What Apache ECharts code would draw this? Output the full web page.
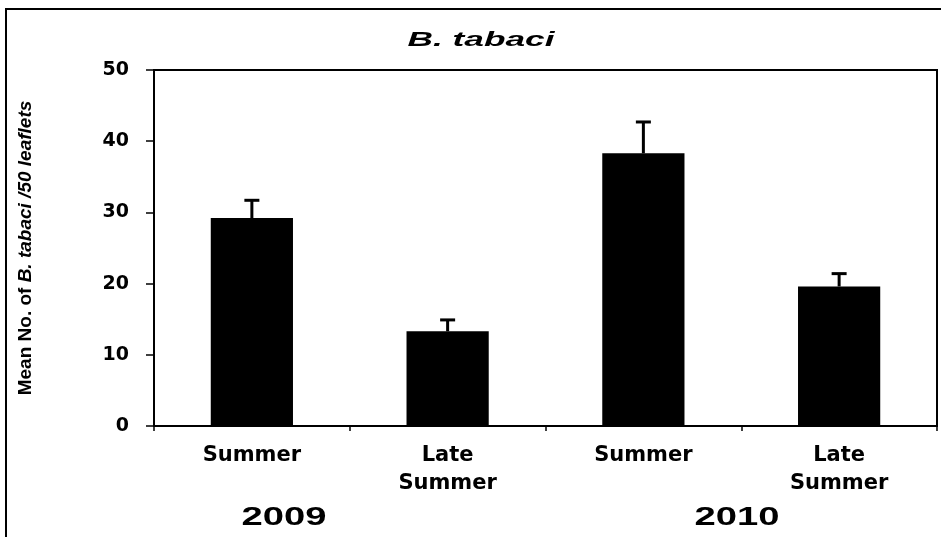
<!DOCTYPE html>
<html><head><meta charset="utf-8">
<script src="https://cdn.jsdelivr.net/npm/echarts@6/dist/echarts.min.js"></script>
<style>html,body{margin:0;padding:0;background:#fff}#c{width:941px;height:537px}</style>
</head><body><div id="c"></div>
<script>
const categories = ['Summer', 'Late\nSummer', 'Summer', 'Late\nSummer'];
const means = [29.2, 13.3, 38.3, 19.6];
const errors = [2.5, 1.6, 4.4, 1.8];
const years = ['2009', '2010'];
const titleText = 'B. tabaci';
const yName = ['Mean No. of ', 'B. tabaci /50 leaflets'];

const chart = echarts.init(document.getElementById('c'), null, {renderer: 'canvas'});
const option = {
  animation: false,
  backgroundColor: '#fff',
  grid: {left: 154, right: 4, top: 70, bottom: 111, show: true, borderColor: '#000', borderWidth: 2, backgroundColor: 'transparent'},
  xAxis: {
    type: 'category', data: categories,
    axisLine: {lineStyle: {color: '#000', width: 2}},
    axisTick: {show: true, length: 5, lineStyle: {color: '#000', width: 1.5}},
    axisLabel: {color: '#000', fontFamily: 'DejaVu Sans', fontWeight: 'bold', fontSize: 21, lineHeight: 28, margin: 16, interval: 0}
  },
  yAxis: {
    type: 'value', min: 0, max: 50, interval: 10,
    splitLine: {show: false},
    axisLine: {show: true, lineStyle: {color: '#000', width: 2}},
    axisTick: {show: true, length: 8, lineStyle: {color: '#000', width: 1.5}},
    axisLabel: {color: '#000', fontFamily: 'DejaVu Sans', fontWeight: 'bold', fontSize: 19, margin: 25},
    name: '{a|' + yName[0] + '}{b|' + yName[1] + '}',
    nameLocation: 'middle', nameGap: 119, nameRotate: 90,
    nameTextStyle: {
      color: '#000',
      rich: {
        a: {fontFamily: 'Liberation Sans', fontWeight: 'bold', fontSize: 19, color: '#000'},
        b: {fontFamily: 'Liberation Sans', fontWeight: 'bold', fontStyle: 'italic', fontSize: 19, color: '#000'}
      }
    }
  },
  series: [
    {
      type: 'bar', data: means, barWidth: '42%',
      itemStyle: {color: '#000'}
    },
    {
      type: 'custom', z: 5,
      data: means.map((m, i) => [i, m, errors[i]]),
      encode: {x: 0, y: 1},
      renderItem: function (params, api) {
        const x = api.value(0), m = api.value(1), e = api.value(2);
        const p0 = api.coord([x, m]);
        const p1 = api.coord([x, m + e]);
        return {
          type: 'group',
          children: [
            {type: 'line', shape: {x1: p0[0], y1: p0[1], x2: p1[0], y2: p1[1]}, style: {stroke: '#000', lineWidth: 3}},
            {type: 'line', shape: {x1: p1[0] - 7.5, y1: p1[1], x2: p1[0] + 7.5, y2: p1[1]}, style: {stroke: '#000', lineWidth: 3}}
          ]
        };
      }
    }
  ],
  graphic: [
    {type: 'polyline', shape: {points: [[6, 537], [6, 9], [941, 9]]}, style: {stroke: '#000', lineWidth: 2, fill: null}, silent: true},
    {type: 'text', x: 481, y: 40, scaleX: 1.68, style: {text: titleText, fontFamily: 'Liberation Sans', fontWeight: 'bold', fontStyle: 'italic', fontSize: 21, fill: '#000', align: 'center', verticalAlign: 'middle'}},
    {type: 'text', x: 284, y: 518, scaleX: 1.47, style: {text: years[0], fontFamily: 'Liberation Sans', fontWeight: 'bold', fontSize: 26, fill: '#000', align: 'center', verticalAlign: 'middle'}},
    {type: 'text', x: 737, y: 518, scaleX: 1.47, style: {text: years[1], fontFamily: 'Liberation Sans', fontWeight: 'bold', fontSize: 26, fill: '#000', align: 'center', verticalAlign: 'middle'}}
  ]
};
chart.setOption(option);
</script>
</body></html>
